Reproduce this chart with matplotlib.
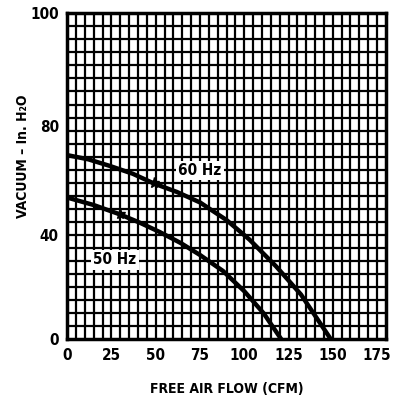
import matplotlib
matplotlib.use("Agg")
import matplotlib.pyplot as plt
import numpy as np

# curves (CFM, vacuum)
flow_60 = [0, 12, 24, 37, 49, 62, 75, 90, 103, 118, 132, 149]
vac_60 = [56.5, 55.2, 53.2, 50.8, 47.8, 45.2, 42.0, 36.6, 30.6, 22.4, 13.8, 0]
flow_50 = [0, 15, 30, 41, 52, 64, 75, 88, 100, 111, 121]
vac_50 = [43.5, 41.2, 38.3, 35.8, 33.0, 29.6, 25.9, 21.0, 14.8, 8.0, 0]

star_60 = (49, 47.8)
star_50 = (30, 38.3)

xticks = [0, 25, 50, 75, 100, 125, 150, 175]
xtick_labels = ['0', '25', '50', '75', '100', '125', '150', '175']
yticks = [0, 32, 65.4, 100]
ytick_labels = ['0', '40', '80', '100']

plt.rcParams['font.family'] = ['DejaVu Sans']
plt.rcParams['font.stretch'] = 'condensed'

fig = plt.figure(figsize=(4.02, 3.98), dpi=100)
ax = fig.add_axes([0.167, 0.147, 0.793, 0.82])

ax.set_xlim(0, 180)
ax.set_ylim(0, 100)

# dense graph paper grid
for gx in np.arange(5, 180, 5):
    ax.axvline(gx, color='black', lw=1.6, zorder=1)
for gy in np.arange(4, 100, 4):
    ax.axhline(gy, color='black', lw=1.6, zorder=1)

ax.plot(flow_60, vac_60, color='black', lw=3.2, zorder=3)
ax.plot(flow_50, vac_50, color='black', lw=3.2, zorder=3)
ax.plot(*star_60, marker='*', ms=8, color='black', zorder=4)
ax.plot(*star_50, marker='*', ms=8, color='black', zorder=4)

box = dict(facecolor='white', edgecolor='none', pad=1.5)
ax.text(75, 51.8, '60 Hz', ha='center', va='center', fontsize=11,
        fontweight='bold', bbox=box, zorder=5)
ax.text(27, 24.4, '50 Hz', ha='center', va='center', fontsize=11,
        fontweight='bold', bbox=box, zorder=5)

ax.set_xticks(xticks)
ax.set_xticklabels(xtick_labels, fontsize=11, fontweight='bold')
ax.set_yticks(yticks)
ax.set_yticklabels(ytick_labels, fontsize=11, fontweight='bold')
ax.tick_params(length=0, pad=6)

ax.set_xlabel('FREE AIR FLOW (CFM)', fontsize=10, fontweight='bold', labelpad=14)
ax.set_ylabel('VACUUM – In. H₂O', fontsize=10, fontweight='bold')
ax.yaxis.set_label_coords(-0.115, 0.56)

for s in ax.spines.values():
    s.set_linewidth(2.5)

fig.savefig('out.png', dpi=100)
